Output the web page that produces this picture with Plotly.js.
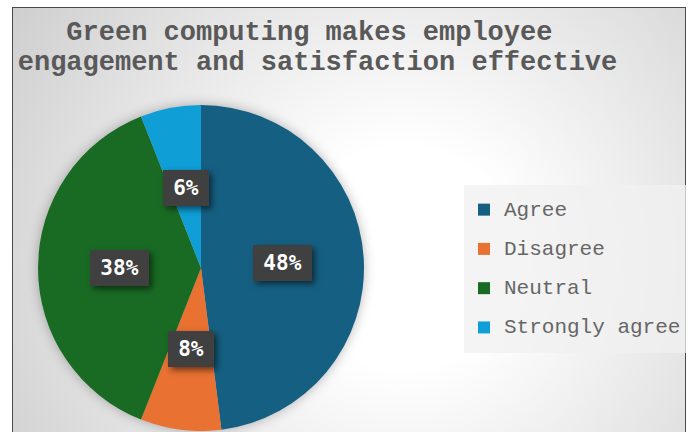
<!DOCTYPE html>
<html>
<head>
<meta charset="utf-8">
<script src="https://cdn.plot.ly/plotly-3.0.1.min.js"></script>
<style>
  html, body { margin: 0; padding: 0; background: #ffffff; }
  #wrap { position: relative; width: 691px; height: 432px; overflow: hidden; }
  #bg {
    position: absolute; left: 12px; top: 7px; width: 672px; height: 450px;
    border: 1.5px solid #4a4a4a;
    background: radial-gradient(circle at 390px 250px, #ffffff 0px, #ffffff 110px, #cfcfcf 460px);
  }
  #chart { position: absolute; left: 0; top: 0; width: 691px; height: 432px; }
  .pielayer { filter: drop-shadow(0px 0px 6px rgba(0,0,0,0.28)); }
  .annotation .bg { filter: drop-shadow(3px 3px 3px rgba(0,0,0,0.55)); }
</style>
</head>
<body>
<div id="wrap">
  <div id="bg"></div>
  <div id="chart"></div>
</div>
<script>
// ---- data ----
const categories = ["Agree", "Disagree", "Neutral", "Strongly agree"];
const percentValues = [48, 8, 38, 6];
const sliceColors = ["#156082", "#E97132", "#196B24", "#0F9ED5"];
const chartTitleLines = ["Green computing makes employee&nbsp;", "engagement and satisfaction effective"];

// ---- layout constants ----
const W = 691, H = 432;
const domX = [38 / W, 364 / W];
const domY = [1 - 431 / H, 1 - 105 / H];

const legendLabels = categories.map(c =>
  "<span style='font-size:21px;baseline-shift:5px'>" + c + "</span>");

const trace = {
  type: "pie",
  labels: legendLabels,
  values: percentValues,
  marker: { colors: sliceColors, line: { width: 0 } },
  sort: false,
  direction: "clockwise",
  rotation: 0,
  textinfo: "none",
  hoverinfo: "none",
  domain: { x: domX, y: domY }
};

// label boxes placed at half radius on each slice's mid angle
const total = percentValues.reduce((a, b) => a + b, 0);
const cx = (domX[0] + domX[1]) / 2 * W;
const cy = (1 - (domY[0] + domY[1]) / 2) * H;
const R = (domX[1] - domX[0]) * W / 2;
let cum = 0;
const annotations = [];
percentValues.forEach((v, i) => {
  const mid = (cum + v / 2) / total;
  cum += v;
  const th = mid * 2 * Math.PI;
  const px = cx + 0.5 * R * Math.sin(th);
  const py = cy - 0.5 * R * Math.cos(th);
  const txt = v + "%";
  annotations.push({
    xref: "paper", yref: "paper",
    x: px / W, y: 1 - py / H,
    xanchor: "center", yanchor: "middle",
    text: "<b>" + txt + "</b>",
    showarrow: false,
    font: { family: "DejaVu Sans Mono", size: 21, color: "#ffffff" },
    bgcolor: "#404040",
    borderpad: 0, borderwidth: 0,
    width: 20 + 13 * txt.length, height: 36
  });
});

const layout = {
  width: W, height: H,
  margin: { l: 0, r: 0, t: 0, b: 0 },
  paper_bgcolor: "rgba(0,0,0,0)",
  plot_bgcolor: "rgba(0,0,0,0)",
  showlegend: true,
  title: {
    text: chartTitleLines.map(t => "<span style='font-size:27px'>" + t + "</span>").join("<br>"),
    font: { family: "Liberation Mono", size: 23, color: "#595959", weight: "bold" },
    x: 317.5 / W, xanchor: "center", xref: "paper",
    y: 1 - 40 / H, yanchor: "top", yref: "container"
  },
  legend: {
    x: 464 / W, xanchor: "left",
    y: 1 - 185 / H, yanchor: "top",
    bgcolor: "rgba(240,240,240,0.75)",
    borderwidth: 0,
    itemwidth: 30,
    font: { family: "Liberation Mono", size: 27.9, color: "#666666" }
  },
  annotations: annotations
};

Plotly.newPlot("chart", [trace], layout, { displayModeBar: false, staticPlot: true });
</script>
</body>
</html>
